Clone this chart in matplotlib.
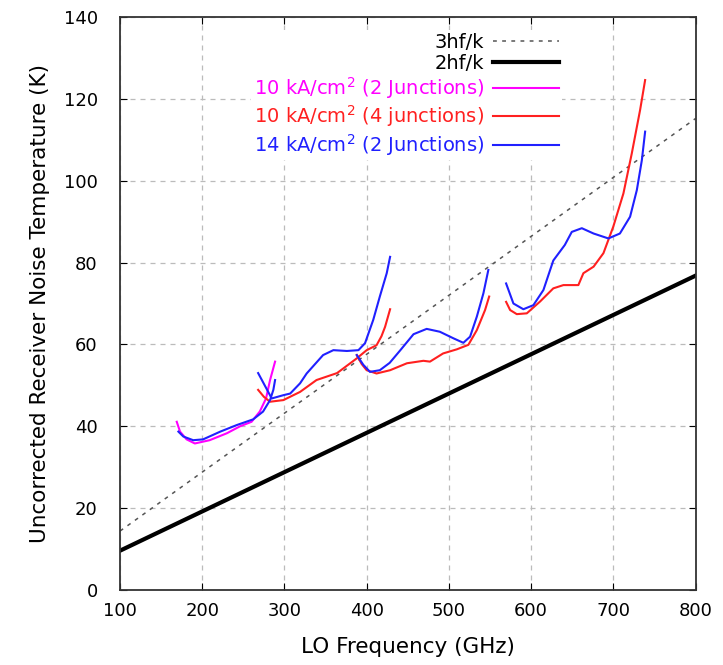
import matplotlib
matplotlib.use('Agg')
import matplotlib.pyplot as plt

''' ----- Data read off the reference ----- '''
ref_f = [100, 800]
three_hf = [14.4, 115.2]
two_hf = [9.6, 76.8]

# 10 kA/cm2 (2 junctions)
mag_f = [169, 173, 181, 191, 209, 230, 246, 260, 270, 277.6, 282.5, 288.6]
mag_T = [41.1, 38.7, 36.8, 35.8, 36.6, 38.3, 40, 41.1, 43.6, 46.8, 51.3, 55.8]

# 10 kA/cm2 (4 junctions), three bands
red2_f = [268, 275, 282.5, 298.7, 319, 339, 364, 388, 400, 412, 418, 422.4, 428.5]
red2_T = [48.9, 47.2, 46, 46.4, 48.4, 51.3, 53, 56.6, 58.6, 59.8, 62, 64.3, 68.6]
red3_f = [388, 394, 400, 412, 428.5, 449, 469, 477, 493, 509.6, 523.7, 534, 544, 549]
red3_T = [57.4, 55.2, 53.7, 52.9, 53.7, 55.4, 56, 55.8, 57.8, 58.8, 59.9, 63.5, 68.4, 71.7]
red4_f = [569.6, 574.5, 582.6, 594.8, 611, 627, 639.3, 657.5, 663.6, 676, 688, 700,
          712.3, 722.5, 732.6, 738.7]
red4_T = [70.4, 68.4, 67.4, 67.6, 70.5, 73.7, 74.5, 74.5, 77.4, 79, 82.3, 88.8,
          96.9, 106.7, 117.3, 124.6]

# 14 kA/cm2 (2 junctions), four bands
blue1_f = [171, 177, 189, 201, 222, 242, 262, 274, 282.5, 286.5, 288.6]
blue1_T = [38.7, 37.5, 36.6, 36.8, 38.7, 40.3, 41.7, 43.6, 46.4, 48.9, 51.3]
blue2_f = [268, 276, 284.5, 298.7, 307, 319, 327, 347, 359.5, 376, 390, 398, 408,
           416, 424.4, 428.5]
blue2_T = [53, 50, 46.8, 47.6, 48, 50.5, 52.9, 57.4, 58.6, 58.4, 58.6, 60.3, 66,
           71.7, 77.4, 81.4]
blue3_f = [388, 396, 404, 416, 428, 441, 457, 473, 489, 505.5, 517.6, 525.8, 534,
           542, 548]
blue3_T = [57.4, 55, 53.3, 53.7, 55.5, 58.6, 62.5, 63.8, 63.1, 61.5, 60.4, 61.9,
           66.8, 72.5, 78.2]
blue4_f = [569.6, 578.5, 590.6, 602.8, 615, 627, 641, 649.5, 661.7, 676, 694, 708,
           720.4, 728.6, 734.7, 738.7]
blue4_T = [74.9, 70, 68.6, 69.6, 73.3, 80.5, 84.3, 87.5, 88.4, 87.1, 85.9, 87.1,
           91.2, 97.7, 105, 112]

labels = ['3hf/k', '2hf/k', '10 kA/cm$^2$ (2 Junctions)',
          '10 kA/cm$^2$ (4 junctions)', '14 kA/cm$^2$ (2 Junctions)']

''' ----- Plot ----- '''
plt.rcParams['font.family'] = ['DejaVu Sans']
fig = plt.figure(figsize=(7.23, 6.65), dpi=100)
ax = fig.add_axes([0.166, 0.1128, 0.796, 0.8616])

l3, = ax.plot(ref_f, three_hf, color='#555555', lw=1.1, linestyle=(0, (2.5, 3.5)))
l2, = ax.plot(ref_f, two_hf, color='black', lw=3)
lm, = ax.plot(mag_f, mag_T, color='#ff00ff', lw=1.5)
lr, = ax.plot(red2_f, red2_T, color='#ff2020', lw=1.5)
ax.plot(red3_f, red3_T, color='#ff2020', lw=1.5)
ax.plot(red4_f, red4_T, color='#ff2020', lw=1.5)
lb, = ax.plot(blue1_f, blue1_T, color='#2020ff', lw=1.5)
ax.plot(blue2_f, blue2_T, color='#2020ff', lw=1.5)
ax.plot(blue3_f, blue3_T, color='#2020ff', lw=1.5)
ax.plot(blue4_f, blue4_T, color='#2020ff', lw=1.5)

ax.set_xlim(100, 800)
ax.set_ylim(0, 140)
ax.set_xticks(range(100, 801, 100))
ax.set_yticks(range(0, 141, 20))
ax.grid(True, color='#bbbbbb', linestyle=(0, (4, 4)), lw=0.9)
ax.tick_params(direction='in', length=5, top=True, right=True, labelsize=13)
ax.tick_params(axis='x', pad=9)
ax.tick_params(axis='y', pad=16)
for s in ax.spines.values():
    s.set_linewidth(1.3)
    s.set_color('#333333')

ax.set_xlabel('LO Frequency (GHz)', fontsize=15.5, labelpad=12)
ax.set_ylabel('Uncorrected Receiver Noise Temperature (K)', fontsize=15.5, labelpad=10)

leg = ax.legend([l3, l2, lm, lr, lb], labels, loc='upper right',
                bbox_to_anchor=(0.785, 0.995), markerfirst=False, frameon=True,
                fontsize=14, handlelength=3.4, handletextpad=0.45, labelspacing=0.12,
                borderpad=0.15)
leg.get_frame().set_edgecolor('none')
leg.get_frame().set_facecolor('white')
leg.get_frame().set_alpha(1)
text_colors = ['black', 'black', '#ff00ff', '#ff2020', '#2020ff']
for t, c in zip(leg.get_texts(), text_colors):
    t.set_color(c)

plt.savefig('out.png', dpi=100)
